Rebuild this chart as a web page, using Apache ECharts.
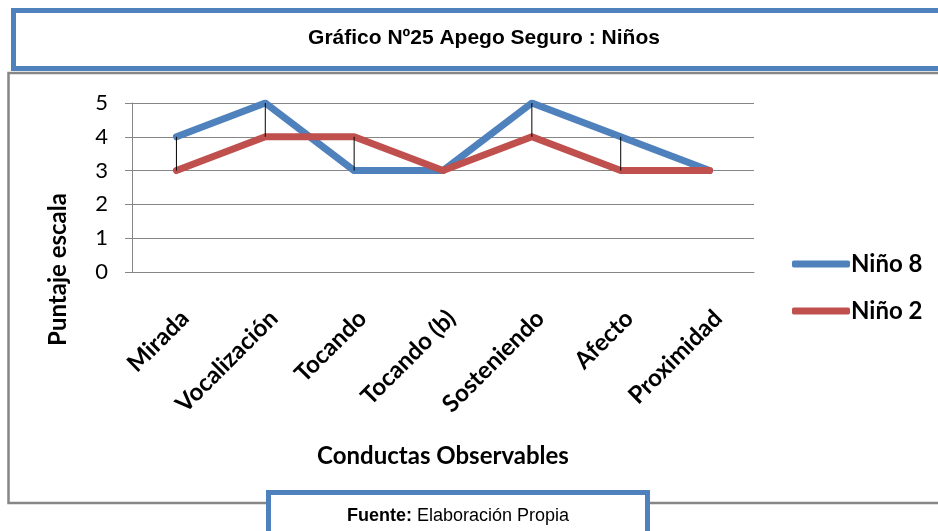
<!DOCTYPE html>
<html>
<head>
<meta charset="utf-8">
<title>Gráfico Nº25 Apego Seguro : Niños</title>
<script src="https://cdn.jsdelivr.net/npm/echarts@6/dist/echarts.min.js"></script>
<style>
  html, body { margin: 0; padding: 0; background: #fff; }
  #chart { width: 938px; height: 531px; }
</style>
</head>
<body>
<div id="chart"></div>
<script>
// Datos
const categories = ['Mirada', 'Vocalización', 'Tocando', 'Tocando (b)', 'Sosteniendo', 'Afecto', 'Proximidad'];
const nino8 = [4, 5, 3, 3, 5, 4, 3];
const nino2 = [3, 4, 4, 3, 4, 3, 3];
const yTicks = [0, 1, 2, 3, 4, 5];

const BLUE = '#4F81BD';
const RED = '#C0504D';
const GRAY = '#868686';
const FONT = 'Lato, "Noto Sans", sans-serif';

document.addEventListener('DOMContentLoaded', function () {
    const myChart = echarts.init(document.getElementById('chart'));

    // líneas máx-mín entre las dos series
    const hiLow = categories.map((c, i) => [i, nino8[i], nino2[i]]);

    const option = {
        backgroundColor: '#fff',
        animation: false,
        graphic: [
            {
                type: 'rect', z: -10,
                shape: { x: 8.5, y: 73, width: 960, height: 430 },
                style: { fill: null, stroke: GRAY, lineWidth: 2.5 }
            },
            {
                type: 'rect', z: -10,
                shape: { x: 13.5, y: 10.5, width: 960, height: 58 },
                style: { fill: null, stroke: BLUE, lineWidth: 5 }
            },
            {
                type: 'text',
                x: 484, y: 38,
                style: {
                    text: 'Gráfico Nº25 Apego Seguro : Niños',
                    font: 'bold 21px "Liberation Sans", Arial, sans-serif',
                    fill: '#000', align: 'center', verticalAlign: 'middle'
                }
            },
            {
                type: 'rect', z: 100,
                shape: { x: 268.5, y: 492.5, width: 379, height: 60 },
                style: { fill: '#fff', stroke: BLUE, lineWidth: 5 }
            },
            {
                type: 'text', z: 101,
                x: 458, y: 516,
                style: {
                    text: '{b|Fuente:} Elaboración Propia',
                    font: '18px "Liberation Sans", Arial, sans-serif',
                    fill: '#000', align: 'center', verticalAlign: 'middle',
                    rich: {
                        b: { font: 'bold 18px "Liberation Sans", Arial, sans-serif', fill: '#000' }
                    }
                }
            }
        ],
        legend: {
            data: ['Niño 8', 'Niño 2'],
            orient: 'vertical',
            left: 787,
            top: 247,
            itemGap: 23,
            itemWidth: 58,
            itemHeight: 7,
            icon: 'roundRect',
            textStyle: {
                fontFamily: FONT, fontWeight: 'bold', fontSize: 24, color: '#000',
                padding: [0, 0, 0, -4]
            }
        },
        grid: {
            left: 132,
            right: 184,
            top: 103,
            bottom: 259,
            containLabel: false
        },
        xAxis: {
            type: 'category',
            boundaryGap: true,
            data: categories,
            name: 'Conductas Observables',
            nameLocation: 'middle',
            nameGap: 172,
            nameTextStyle: { fontFamily: FONT, fontWeight: 'bold', fontSize: 24, color: '#000' },
            axisLine: { show: true, lineStyle: { color: GRAY, width: 1 } },
            axisTick: { show: false },
            axisLabel: {
                rotate: 45,
                interval: 0,
                align: 'right',
                verticalAlign: 'top',
                margin: 34,
                fontFamily: FONT,
                fontWeight: 'bold',
                fontSize: 24,
                color: '#000'
            }
        },
        yAxis: {
            type: 'value',
            min: yTicks[0],
            max: yTicks[yTicks.length - 1],
            interval: 1,
            name: 'Puntaje escala',
            nameLocation: 'middle',
            nameGap: 62,
            nameRotate: 90,
            nameTextStyle: {
                fontFamily: FONT, fontWeight: 'bold', fontSize: 24, color: '#000',
                padding: [0, 164, 0, 0]
            },
            axisLine: { show: true, lineStyle: { color: GRAY, width: 1 } },
            axisTick: { show: true, length: 7, lineStyle: { color: GRAY } },
            axisLabel: { margin: 24, fontFamily: FONT, fontSize: 22, color: '#000' },
            splitLine: { show: true, lineStyle: { color: GRAY, width: 1 } }
        },
        series: [
            {
                name: 'Niño 8',
                type: 'line',
                data: nino8,
                color: BLUE,
                symbol: 'none',
                lineStyle: { width: 7, color: BLUE, cap: 'round', join: 'round' },
                z: 3
            },
            {
                name: 'Niño 2',
                type: 'line',
                data: nino2,
                color: RED,
                symbol: 'none',
                lineStyle: { width: 7, color: RED, cap: 'round', join: 'round' },
                z: 4
            },
            {
                name: 'alto-bajo',
                type: 'custom',
                data: hiLow,
                encode: { x: 0, y: [1, 2] },
                z: 5,
                silent: true,
                renderItem: function (params, api) {
                    const p1 = api.coord([api.value(0), api.value(1)]);
                    const p2 = api.coord([api.value(0), api.value(2)]);
                    return {
                        type: 'line',
                        shape: { x1: p1[0], y1: p1[1], x2: p2[0], y2: p2[1] },
                        style: { stroke: '#000', lineWidth: 1 }
                    };
                }
            }
        ]
    };

    myChart.setOption(option);

    window.addEventListener('resize', function () {
        myChart.resize();
    });
});
</script>
</body>
</html>
